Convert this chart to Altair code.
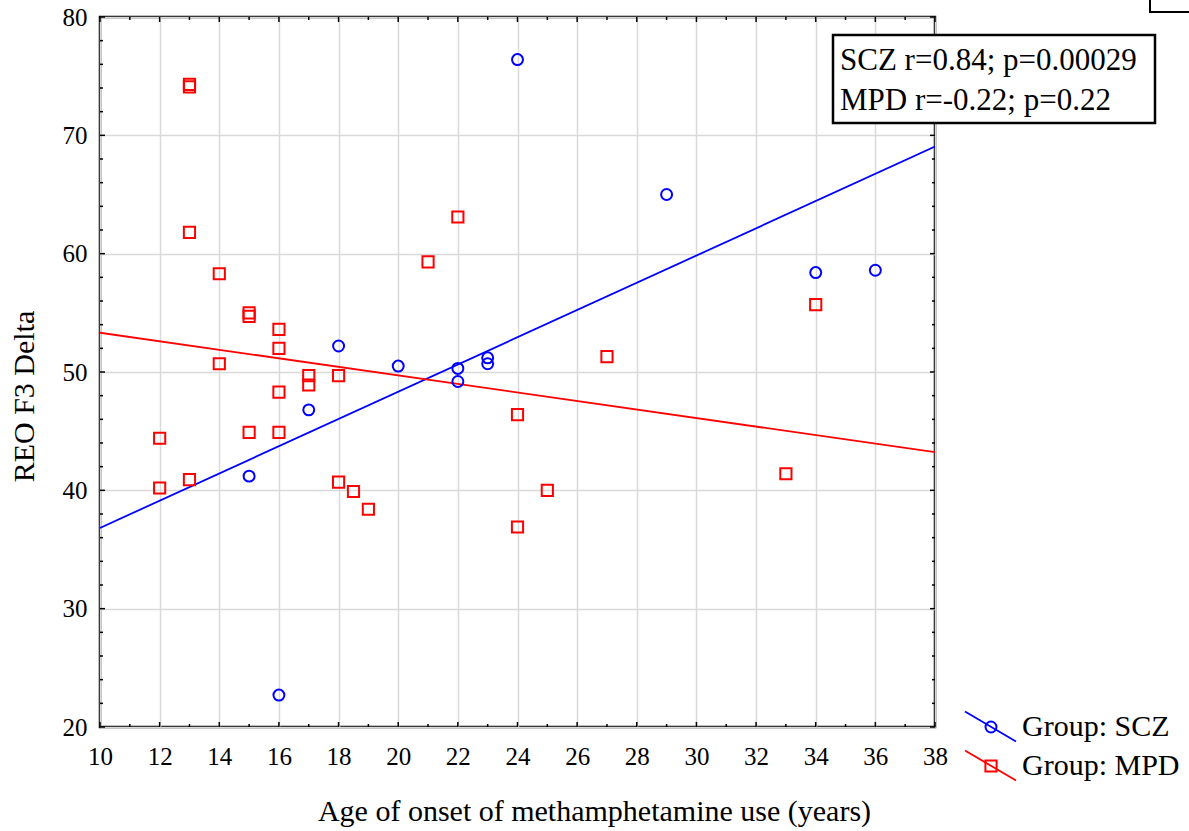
import altair as alt
import pandas as pd

# ---- data ----
scz_x = [24, 18, 20, 22, 23, 23, 17, 15, 16, 22, 29, 34, 36]
scz_y = [76.4, 52.2, 50.5, 50.3, 51.2, 50.7, 46.8, 41.2, 22.7, 49.2, 65.0, 58.4, 58.6]

mpd_x = [13, 13, 13, 14, 15, 15, 16, 16, 14, 22, 21, 17, 17, 18, 16, 12, 15, 16,
         12, 13, 18, 18.5, 19, 27, 34, 24, 25, 24, 33]
mpd_y = [74.3, 74.1, 61.8, 58.3, 55.0, 54.7, 53.6, 52.0, 50.7, 63.1, 59.3, 49.7, 48.9,
         49.7, 48.3, 44.4, 44.9, 44.9, 40.2, 40.9, 40.7, 39.9, 38.4, 51.3, 55.7, 46.4,
         40.0, 36.9, 41.4]

groups = ["SCZ", "MPD"]
colors = ["#0000ff", "#ff0000"]
shapes = ["circle", "square"]
x_ticks = list(range(10, 39, 2))
y_ticks = list(range(20, 81, 10))
x_minor = list(range(11, 38, 2))
y_minor = [v for v in range(22, 80, 2) if v % 10 != 0]
stats_lines = ["SCZ r=0.84; p=0.00029", "MPD r=-0.22; p=0.22"]
legend_labels = ["Group: SCZ", "Group: MPD"]

W, H = 835, 710
FONT = "Liberation Serif"

df = pd.DataFrame({
    "x": scz_x + mpd_x,
    "y": scz_y + mpd_y,
    "group": ["SCZ"] * len(scz_x) + ["MPD"] * len(mpd_x),
})

xscale = alt.Scale(domain=[10, 38], nice=False, zero=False)
yscale = alt.Scale(domain=[20, 80], nice=False, zero=False)
common_axis = dict(labelFont=FONT, labelFontSize=25, labelColor="black",
                   labelFlush=False, labelOverlap=False,
                   titleFont=FONT, titleFontSize=30, titleColor="black",
                   titleFontWeight="normal", domain=False, tickSize=0, ticks=False,
                   grid=True, gridColor="#d9d9d9", gridWidth=1.5, format="d")
xaxis = alt.Axis(values=x_ticks, title="Age of onset of methamphetamine use (years)",
                 titleX=494, titleY=93, titleBaseline="alphabetic", titleAlign="center",
                 labelPadding=17, **common_axis)
yaxis = alt.Axis(values=y_ticks, title="REO F3 Delta", titleAngle=270,
                 titleX=-67, titleY=379, titleBaseline="alphabetic", titleAlign="center",
                 labelPadding=13, **common_axis)


def X(field):
    return alt.X(field, type="quantitative", scale=xscale, axis=xaxis)


def Y(field):
    return alt.Y(field, type="quantitative", scale=yscale, axis=yaxis)


color = alt.Color("group:N", scale=alt.Scale(domain=groups, range=colors), legend=None)

points = alt.Chart(df).mark_point(filled=False, strokeWidth=2, opacity=1).encode(
    x=X("x"), y=Y("y"), color=color,
    shape=alt.Shape("group:N", scale=alt.Scale(domain=groups, range=shapes), legend=None),
    size=alt.Size("group:N", scale=alt.Scale(domain=groups, range=[120, 125]), legend=None),
)

fits = alt.Chart(df).transform_regression(
    "x", "y", groupby=["group"], extent=[10, 38]
).mark_line(strokeWidth=1.8, clip=True).encode(x=X("x"), y=Y("y"), color=color)


# inward ticks on all four sides
def xticks(vals, L):
    d = pd.DataFrame({"v": vals})
    b = alt.Chart(d).mark_rule(color="black", strokeWidth=1.5).encode(
        x=X("v"), y=alt.value(H), y2=alt.value(H - L))
    t = alt.Chart(d).mark_rule(color="black", strokeWidth=1.5).encode(
        x=X("v"), y=alt.value(0), y2=alt.value(L))
    return [b, t]


def yticks(vals, L):
    d = pd.DataFrame({"v": vals})
    l = alt.Chart(d).mark_rule(color="black", strokeWidth=1.5).encode(
        y=Y("v"), x=alt.value(0), x2=alt.value(L))
    r = alt.Chart(d).mark_rule(color="black", strokeWidth=1.5).encode(
        y=Y("v"), x=alt.value(W), x2=alt.value(W - L))
    return [l, r]


ticks = xticks(x_ticks, 5) + xticks(x_minor, 3) + yticks(y_ticks, 5) + yticks(y_minor, 3)

one = pd.DataFrame({"a": [0]})

# stats box
box = alt.Chart(one).mark_rect(fill="white", stroke="black", strokeWidth=2.5).encode(
    x=alt.value(733), x2=alt.value(1055), y=alt.value(18), y2=alt.value(106))
box2 = alt.Chart(one).mark_rect(fill="white", stroke="black", strokeWidth=2).encode(
    x=alt.value(1050), x2=alt.value(1120), y=alt.value(-40), y2=alt.value(-5))
stat_t1 = alt.Chart(one).mark_text(font=FONT, fontSize=31, align="left",
                                   baseline="alphabetic", color="black",
                                   text=stats_lines[0]).encode(
    x=alt.value(740), y=alt.value(53))
stat_t2 = alt.Chart(one).mark_text(font=FONT, fontSize=31, align="left",
                                   baseline="alphabetic", color="black",
                                   text=stats_lines[1]).encode(
    x=alt.value(740), y=alt.value(93))

# manual legend (outside plot, bottom right)
leg = []
for i, (g, c, s) in enumerate(zip(groups, colors, shapes)):
    dy = i * 39
    leg.append(alt.Chart(one).mark_rule(color=c, strokeWidth=1.8).encode(
        x=alt.value(865), x2=alt.value(916), y=alt.value(694.5 + dy), y2=alt.value(724.5 + dy)))
    leg.append(alt.Chart(one).mark_point(shape=s, filled=False, color=c, strokeWidth=2,
                                         size=120 if s == "circle" else 125, opacity=1).encode(
        x=alt.value(891), y=alt.value(710 + dy)))
    leg.append(alt.Chart(one).mark_text(font=FONT, fontSize=30, align="left",
                                        baseline="alphabetic", color="black",
                                        text=legend_labels[i]).encode(
        x=alt.value(922), y=alt.value(719 + dy)))

chart = alt.layer(
    fits, points, *ticks, box, box2, stat_t1, stat_t2, *leg
).properties(
    width=W, height=H,
    autosize=alt.AutoSizeParams(type="none"),
    padding={"left": 100, "top": 17, "right": 254, "bottom": 104},
    background="white",
).configure_view(
    stroke="black", strokeWidth=2.5
).configure_axis(
    labelFont=FONT, labelFontSize=25, labelColor="black", labelFlush=False,
    titleFont=FONT, titleFontSize=30, titleColor="black", titleFontWeight="normal",
    domain=False, tickSize=0, grid=True, gridColor="#d9d9d9", gridWidth=1.5,
)

chart.save("out.html", embed_options={"renderer": "svg", "actions": False})
